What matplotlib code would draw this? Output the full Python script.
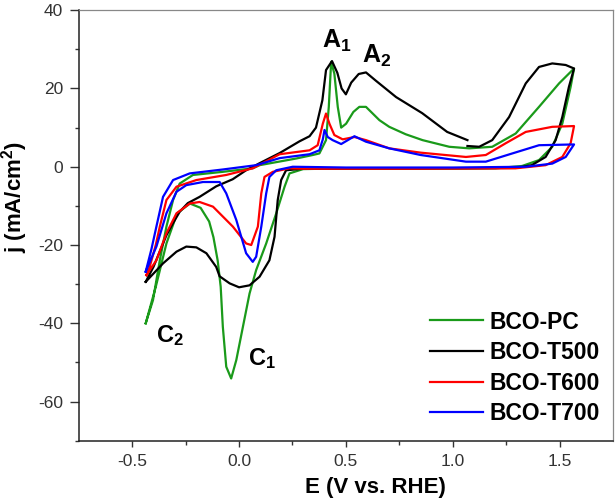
import numpy as np
import matplotlib
matplotlib.use("Agg")
import matplotlib.pyplot as plt

plt.rcParams['font.family'] = ['Liberation Sans', 'DejaVu Sans']
plt.rcParams['mathtext.default'] = 'regular'
plt.rcParams['axes.unicode_minus'] = False

# cyclic voltammograms, each loop: anodic scan then cathodic scan back
E_pc = [-0.437, -0.403, -0.371, -0.34, -0.309, -0.278, -0.216, -0.076, 0.064, 0.096,
        0.267, 0.345, 0.376, 0.407, 0.42, 0.431, 0.446, 0.462, 0.478, 0.501,
        0.535, 0.563, 0.594, 0.657, 0.703, 0.78, 0.859, 0.984, 1.077, 1.185,
        1.295, 1.404, 1.498, 1.568,
        1.552, 1.513, 1.466, 1.404, 1.325, 1.2, 0.8, 0.4, 0.3, 0.236,
        0.213, 0.174, 0.127, 0.08, 0.049, 0.018, -0.013, -0.037, -0.06, -0.076,
        -0.086, -0.1, -0.12, -0.14, -0.18, -0.23, -0.29, -0.34, -0.39, -0.437]
j_pc = [-40, -34.1, -23.9, -15.3, -8.5, -4.3, -2.1, -1.3, -0.4, 0.4,
        2.1, 3.0, 3.4, 6.8, 15.3, 26.8, 23.8, 15.3, 10, 11,
        14, 15.3, 15.3, 11.9, 10.2, 8.3, 6.8, 5.1, 4.7, 5.1,
        8.5, 15.3, 21.3, 25.1,
        20.4, 11, 5.1, 1.7, 0.2, -0.4, -0.5, -0.5, -0.6, -1.7,
        -5.1, -11.9, -19.6, -26.4, -32.4, -40.9, -49.4, -54.1, -51.1, -40.9,
        -30.7, -24, -18, -14, -10.5, -9.4, -11.9, -19.6, -30.7, -40]

E_t500 = [-0.437, -0.40, -0.37, -0.34, -0.31, -0.278, -0.24, -0.185, -0.107, -0.03,
          0.03, 0.096, 0.19, 0.283, 0.33, 0.36, 0.39, 0.407, 0.435, 0.46,
          0.48, 0.50, 0.525, 0.56, 0.594, 0.64, 0.735, 0.857, 0.974, 1.069,
          np.nan, 1.069, 1.124, 1.185, 1.264, 1.342, 1.404, 1.466, 1.529, 1.568,
          1.544, 1.513, 1.482, 1.435, 1.37, 1.295, 0.8, 0.3, 0.22, 0.197,
          0.181, 0.166, 0.142, 0.096, 0.049, 0.0, -0.044, -0.091, -0.107, -0.153,
          -0.2, -0.247, -0.293, -0.356, -0.437]
j_t500 = [-29.4, -25.5, -21.5, -17.5, -14.5, -11.5, -9.3, -7.7, -5, -3.2,
          -1.0, 0.9, 3.5, 6.5, 7.8, 10, 17, 24.7, 27, 24,
          20, 18.5, 21.5, 23.7, 24.1, 22, 17.8, 13.7, 8.9, 6.8,
          np.nan, 5.3, 5.1, 6.8, 12.7, 21.3, 25.5, 26.4, 26, 25.1,
          20.4, 12.7, 6.8, 2.5, 0.4, -0.3, -0.5, -0.5, -0.9, -3.4,
          -8.5, -17.9, -23.9, -28.1, -30.3, -30.8, -29.8, -28, -25.6, -22.1,
          -20.6, -20.4, -21.7, -24.7, -29.4]

E_t600 = [-0.434, -0.418, -0.39, -0.371, -0.34, -0.293, -0.2, -0.06, 0.064, 0.19,
          0.33, 0.368, 0.392, 0.407, 0.423, 0.446, 0.485, 0.54, 0.594, 0.703,
          0.85, 1.062, 1.155, 1.248, 1.342, 1.466, 1.568,
          1.552, 1.513, 1.435, 1.295, 0.8, 0.3, 0.236, 0.158, 0.119, 0.104,
          0.088, 0.057, 0.033, -0.029, -0.091, -0.122, -0.185, -0.231, -0.293, -0.34,
          -0.387, -0.434]
j_t600 = [-27.7, -25.5, -20, -15.3, -8.5, -5.1, -3.4, -2.1, -0.4, 3.2,
          4.2, 5.5, 11, 13.6, 11, 8.1, 7, 7.6, 6.8, 4.7,
          3.6, 2.5, 3.0, 6.0, 8.9, 10.2, 10.4,
          6.0, 2.5, 0.4, -0.4, -0.5, -0.5, -0.4, -1.3, -2.6, -6.8,
          -15.3, -20, -19.6, -15.3, -11.9, -10.2, -9.0, -9.4, -11.9, -17,
          -23.9, -27.7]

E_t700 = [-0.437, -0.41, -0.387, -0.356, -0.309, -0.231, -0.076, 0.08, 0.19, 0.33,
          0.376, 0.392, 0.40, 0.415, 0.438, 0.478, 0.54, 0.594, 0.703, 0.85,
          1.062, 1.155, 1.279, 1.404, 1.568,
          1.529, 1.466, 1.342, 1.0, 0.5, 0.251, 0.174, 0.142, 0.127, 0.104,
          0.08, 0.064, 0.033, -0.013, -0.06, -0.091, -0.169, -0.247, -0.293, -0.34,
          -0.387, -0.437]
j_t700 = [-26.8, -21, -15.3, -7.7, -3.4, -1.7, -0.7, 0.4, 2.2, 3.2,
          4.2, 7, 9.4, 7.6, 6.8, 5.8, 7.8, 6.4, 4.7, 3.0,
          1.3, 1.3, 3.4, 5.5, 5.7,
          2.5, 0.8, 0, -0.2, -0.2, 0, -0.9, -2.6, -6.8, -15.3,
          -23, -24.3, -22.1, -13.6, -6.8, -3.9, -3.9, -4.7, -6.4, -11.9,
          -20.4, -26.8]

fig = plt.figure(figsize=(6.16, 5.0), dpi=100)
ax = fig.add_axes([0.128, 0.1186, 0.867, 0.861])

lw = 1.6
ax.plot(E_pc, j_pc, color='#1a9a1a', lw=lw, label='BCO-PC')
ax.plot(E_t500, j_t500, color='black', lw=lw, label='BCO-T500')
ax.plot(E_t600, j_t600, color='#ff0000', lw=lw, label='BCO-T600')
ax.plot(E_t700, j_t700, color='#0000ff', lw=lw, label='BCO-T700')

ax.set_xlim(-0.75, 1.75)
ax.set_ylim(-70, 40)
ax.set_xticks([-0.5, 0.0, 0.5, 1.0, 1.5])
ax.set_xticks([-0.25, 0.25, 0.75, 1.25], minor=True)
ax.set_yticks([-60, -40, -20, 0, 20, 40])
ax.set_yticks([-70, -50, -30, -10, 10, 30], minor=True)

for s in ['top', 'right']:
    ax.spines[s].set_color('#888888')
    ax.spines[s].set_linewidth(0.9)
for s in ['left', 'bottom']:
    ax.spines[s].set_color('#222222')
    ax.spines[s].set_linewidth(1.1)

ax.tick_params(axis='both', which='both', direction='out', top=False, right=False,
               labelsize=12.5, labelcolor='#333333', color='#333333', width=1)
ax.tick_params(axis='x', which='major', length=4.5, pad=5)
ax.tick_params(axis='x', which='minor', length=3)
ax.tick_params(axis='y', which='major', length=6.5, pad=5)
ax.tick_params(axis='y', which='minor', length=3)

ax.set_xlabel('E (V vs. RHE)', fontsize=16, fontweight='bold')
ax.xaxis.set_label_coords(0.556, -0.085)
ax.set_ylabel('j (mA/cm$^2$)', fontsize=16, fontweight='bold')
ax.yaxis.set_label_coords(-0.092, 0.566)

ax.text(0.386, 30.3, 'A$_1$', fontsize=18, fontweight='bold')
ax.text(0.577, 26.5, 'A$_2$', fontsize=18, fontweight='bold')
ax.text(-0.387, -44.7, 'C$_2$', fontsize=17, fontweight='bold')
ax.text(0.04, -50.7, 'C$_1$', fontsize=17, fontweight='bold')

ax.legend(loc='lower right', bbox_to_anchor=(0.976, 0.036), frameon=False,
          prop={'size': 16.5, 'weight': 'bold'}, handlelength=2.3,
          handletextpad=0.3, labelspacing=0.33, borderpad=0, borderaxespad=0)

fig.savefig('out.png', dpi=100)
